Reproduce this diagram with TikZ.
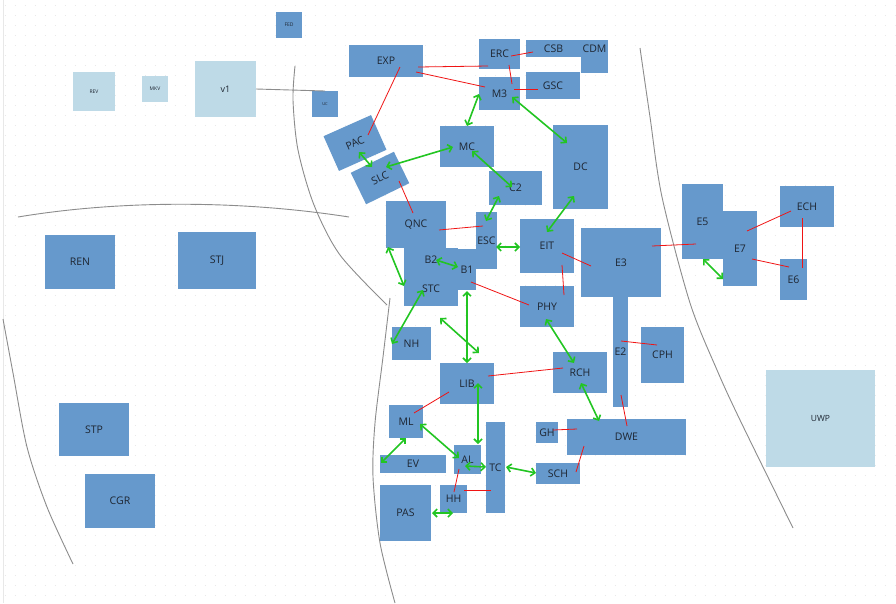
\documentclass[tikz,border=0pt]{standalone}
\usepackage{fontspec}
\setmainfont{Open Sans}
\usetikzlibrary{arrows.meta,calc}

\definecolor{bldgblue}{RGB}{102,153,204}
\definecolor{paleblue}{RGB}{190,218,231}
\definecolor{inkgray}{RGB}{30,38,50}
\definecolor{linkgreen}{RGB}{34,197,34}
\definecolor{linkred}{RGB}{240,20,20}
\definecolor{pathgray}{RGB}{140,140,140}
\definecolor{dotgray}{RGB}{232,232,232}

\begin{document}
\begin{tikzpicture}[x=1pt,y=-1pt,
  bldg/.style={fill=bldgblue, text=inkgray, inner sep=0pt, outer sep=0pt, font=\fontsize{10.5}{12}\selectfont},
  oldbldg/.style={bldg, fill=paleblue},
  smalltag/.style={font=\fontsize{5}{6}\selectfont},
  walk/.style={draw=linkred, line width=0.8pt},
  route/.style={draw=linkgreen, line width=1.6pt, {Straight Barb[length=4pt,width=8pt]}-{Straight Barb[length=4pt,width=8pt]}},
  campusline/.style={draw=pathgray, line width=0.9pt}]

  \fill [white] (0,0) rectangle (896,603);
  \useasboundingbox (0,0) rectangle (896,603);
  \foreach \row in {5,15,...,595}
    \draw [dotgray, line width=1pt, dash pattern=on 1pt off 9pt] (4.5,\row) -- (896,\row);
  \draw [dotgray, line width=0.8pt] (3,0) -- (3,603);

  % campus boundaries
  \draw [campusline] plot [smooth] coordinates {(3,319) (13,373) (27,447) (47,507) (73,564)};
  \draw [campusline] (18,217) .. controls (120,200) and (240,200) .. (349,217);
  \draw [campusline] plot [smooth] coordinates {(295,66) (293,100) (298,150) (314,205) (340,255) (387,305)};
  \draw [campusline] plot [smooth] coordinates {(390,298) (383,357) (375,423) (373,477) (380,543) (395,603)};
  \draw [campusline] plot [smooth] coordinates {(640,48) (650,117) (662,197) (690,303) (717,370) (740,420) (793,528)};

  % outside buildings
  \node [oldbldg, smalltag, minimum width=42, minimum height=39] (rev) at (94,91.5) {REV};
  \node [oldbldg, smalltag, minimum width=26, minimum height=26] (mkv) at (155,89) {MKV};
  \node [oldbldg, font=\fontsize{9}{10}\selectfont, minimum width=61, minimum height=56] (v1) at (225.5,89) {v1};
  \node [bldg, smalltag, minimum width=26, minimum height=26] (fed) at (289,25) {FED};
  \node [bldg, font=\fontsize{4}{5}\selectfont, minimum width=26, minimum height=26] (uc) at (325,104) {UC};
  \node [oldbldg, font=\fontsize{8.5}{10}\selectfont, minimum width=109, minimum height=97] (uwp) at (820.5,418.5) {UWP};
  \node [bldg, minimum width=70, minimum height=54] (ren) at (80,262) {REN};
  \node [bldg, minimum width=78, minimum height=57] (stj) at (217,260.5) {STJ};
  \node [bldg, minimum width=70, minimum height=53] (stp) at (94,429.5) {STP};
  \node [bldg, minimum width=70, minimum height=54] (cgr) at (120,501) {CGR};

  % north campus
  \node [bldg, minimum width=74, minimum height=32] (exp) at (386,61) {EXP};
  \node [bldg, rotate=24, minimum width=52, minimum height=38] (pac) at (355,143) {PAC};
  \node [bldg, rotate=26, minimum width=48, minimum height=35] (slc) at (380,178) {SLC};
  \node [bldg, minimum width=41, minimum height=30] (erc) at (499.5,54) {ERC};
  \node [bldg, minimum width=41, minimum height=33] (m3) at (499.5,93.5) {M3};
  \node [bldg, minimum width=55, minimum height=17] (csb) at (553.5,48.5) {CSB};
  \node [bldg, minimum width=27, minimum height=33] (cdm) at (594.5,56.5) {};
  \node [bldg, fill=none] (cdmtag) at (594.5,49) {CDM};
  \node [bldg, minimum width=54, minimum height=27] (gsc) at (553,85.5) {GSC};
  \node [bldg, minimum width=54, minimum height=41] (mc) at (467,146.5) {MC};
  \node [bldg, minimum width=55, minimum height=84] (dc) at (580.5,167) {DC};
  \node [bldg, minimum width=53, minimum height=34] (c2) at (515.5,188) {C2};

  % central campus
  \node [bldg, minimum width=60, minimum height=47] (qnc) at (416,224.5) {QNC};
  \node [bldg, minimum width=54, minimum height=24] (b2) at (431,260) {B2};
  \node [bldg, minimum width=54, minimum height=34] (stc) at (431,289) {STC};
  \node [bldg, minimum width=18, minimum height=41] (b1) at (467,269.5) {B1};
  \node [bldg, minimum width=21, minimum height=57] (esc) at (486.5,240.5) {ESC};
  \node [bldg, minimum width=54, minimum height=54] (eit) at (547,246) {EIT};
  \node [bldg, minimum width=80, minimum height=69] (e3) at (621,262.5) {E3};
  \node [bldg, minimum width=15, minimum height=110] (e2) at (620.5,352) {E2};
  \node [bldg, minimum width=54, minimum height=41] (phy) at (547,306.5) {PHY};
  \node [bldg, minimum width=39, minimum height=33] (nh) at (411.5,343.5) {NH};
  \node [bldg, minimum width=43, minimum height=56] (cph) at (662.5,355) {CPH};
  \node [bldg, minimum width=54, minimum height=41] (rch) at (580,372.5) {RCH};
  \node [bldg, minimum width=54, minimum height=41] (lib) at (467,383.5) {LIB};

  % south campus
  \node [bldg, minimum width=34, minimum height=33] (ml) at (406,421.5) {ML};
  \node [bldg, minimum width=66, minimum height=18] (ev) at (413,464) {EV};
  \node [bldg, minimum width=27, minimum height=29] (al) at (467.5,459.5) {AL};
  \node [bldg, minimum width=19, minimum height=91] (tc) at (495.5,467.5) {TC};
  \node [bldg, minimum width=27, minimum height=28] (hh) at (453.5,499) {HH};
  \node [bldg, minimum width=51, minimum height=56] (pas) at (405.5,513) {PAS};
  \node [bldg, minimum width=22, minimum height=21] (gh) at (547,432.5) {GH};
  \node [bldg, minimum width=119, minimum height=36] (dwe) at (626.5,437) {DWE};
  \node [bldg, minimum width=44, minimum height=21] (sch) at (558,473.5) {SCH};

  % east campus
  \node [bldg, minimum width=41, minimum height=75] (e5) at (702.5,221.5) {E5};
  \node [bldg, minimum width=34, minimum height=75] (e7) at (740,248.5) {E7};
  \node [bldg, minimum width=54, minimum height=41] (ech) at (807,206.5) {ECH};
  \node [bldg, minimum width=27, minimum height=41] (e6) at (793.5,279.5) {E6};

  \draw [campusline] (v1.east) -- (uc.north);

  % red links
  \draw [walk] ($(exp)+(32,6)$) -- ($(erc)+(-11.5,12)$);
  \draw [walk] ($(exp)+(30,11)$) -- ($(m3)+(-14.5,-6.5)$);
  \draw [walk] ($(exp)+(14,6)$) -- ($(pac)+(13,-8)$);
  \draw [walk] ($(erc)+(11.5,2)$) -- ($(csb)+(-20.5,3.5)$);
  \draw [walk] ($(erc)+(9.5,11)$) -- ($(m3)+(12.5,-9.5)$);
  \draw [walk] ($(m3)+(14.5,-4.5)$) -- ($(gsc)+(-15,3.5)$);
  \draw [walk] ($(slc)+(19,3)$) -- ($(qnc)+(-3,-11.5)$);
  \draw [walk] ($(qnc)+(23,5.5)$) -- ($(esc)+(-3.5,-14.5)$);
  \draw [walk] ($(eit)+(15,7)$) -- ($(e3)+(-30,3.5)$);
  \draw [walk] ($(eit)+(15,19)$) -- ($(phy)+(17,-11.5)$);
  \draw [walk] ($(b1)+(4,12.5)$) -- ($(phy)+(-18,-1.5)$);
  \draw [walk] ($(e3)+(31,-16.5)$) -- ($(e5)+(-6.5,22.5)$);
  \draw [walk] ($(e7)+(7,-17.5)$) -- ($(ech)+(-16,4.5)$);
  \draw [walk] ($(e7)+(12,10.5)$) -- ($(e6)+(-4.5,-12.5)$);
  \draw [walk] ($(ech)+(-5,11.5)$) -- ($(e6)+(8.5,-11.5)$);
  \draw [walk] ($(e2)+(0.5,-11)$) -- ($(cph)+(-5.5,-10)$);
  \draw [walk] ($(lib)+(21,-7.5)$) -- ($(rch)+(-17,-4.5)$);
  \draw [walk] ($(e2)+(0.5,43)$) -- ($(dwe)+(0.5,-11)$);
  \draw [walk] ($(ml)+(8,-8.5)$) -- ($(lib)+(-18,8.5)$);
  \draw [walk] ($(gh)+(6,-2.5)$) -- ($(dwe)+(-49.5,-8)$);
  \draw [walk] ($(dwe)+(-42.5,9)$) -- ($(sch)+(18,-1.5)$);
  \draw [walk] ($(al)+(-8.5,9.5)$) -- ($(hh)+(0.5,-7)$);
  \draw [walk] ($(hh)+(10.5,-9)$) -- ($(tc)+(-4.5,22.5)$);

  % green routes
  \draw [route] ($(m3)+(-20.5,0.5)$) -- ($(mc)+(0,-20.5)$);
  \draw [route] ($(m3)+(12.5,3.5)$) -- ($(dc)+(-13.5,-24)$);
  \draw [route] ($(mc)+(-14,0.5)$) -- ($(slc)+(6,-11)$);
  \draw [route] ($(pac)+(4,9)$) -- ($(slc)+(-8,-11)$);
  \draw [route] ($(mc)+(5,4.5)$) -- ($(c2)+(-3.5,-1)$);
  \draw [route] ($(c2)+(-16.5,8)$) -- ($(esc)+(-0.5,-19.5)$);
  \draw [route] ($(dc)+(-6.5,29)$) -- ($(eit)+(0,-14)$);
  \draw [route] ($(esc)+(9.5,6.5)$) -- ($(eit)+(-27,1)$);
  \draw [route] ($(b2)+(5,0)$) -- ($(b1)+(-9,-2.5)$);
  \draw [route] ($(qnc)+(-28,22.5)$) -- ($(stc)+(-27,-3)$);
  \draw [route] ($(stc)+(-8,1)$) -- ($(nh)+(-19.5,0.5)$);
  \draw [route] ($(b1)+(0,21.5)$) -- ($(lib)+(0,-20.5)$);
  \draw [route] ($(stc)+(9,29)$) -- ($(lib)+(12,-30.5)$);
  \draw [route] ($(phy)+(-1,12.5)$) -- ($(rch)+(-6,-9.5)$);
  \draw [route] ($(lib)+(11,-0.5)$) -- ($(al)+(10.5,-15.5)$);
  \draw [route] ($(rch)+(1,10.5)$) -- ($(dwe)+(-27.5,-16)$);
  \draw [route] ($(ml)+(14,2.5)$) -- ($(al)+(-8.5,-1.5)$);
  \draw [route] ($(ml)+(0,16.5)$) -- ($(ev)+(-32,-1)$);
  \draw [route] ($(al)+(-2.5,6.5)$) -- ($(tc)+(-9.5,-0.5)$);
  \draw [route] ($(tc)+(10.5,-0.5)$) -- ($(sch)+(-22,-0.5)$);
  \draw [route] ($(pas)+(26.5,0)$) -- ($(hh)+(-0.5,14)$);
  \draw [route] ($(e5)+(0.5,37.5)$) -- ($(e7)+(-17,30.5)$);

\end{tikzpicture}
\end{document}
